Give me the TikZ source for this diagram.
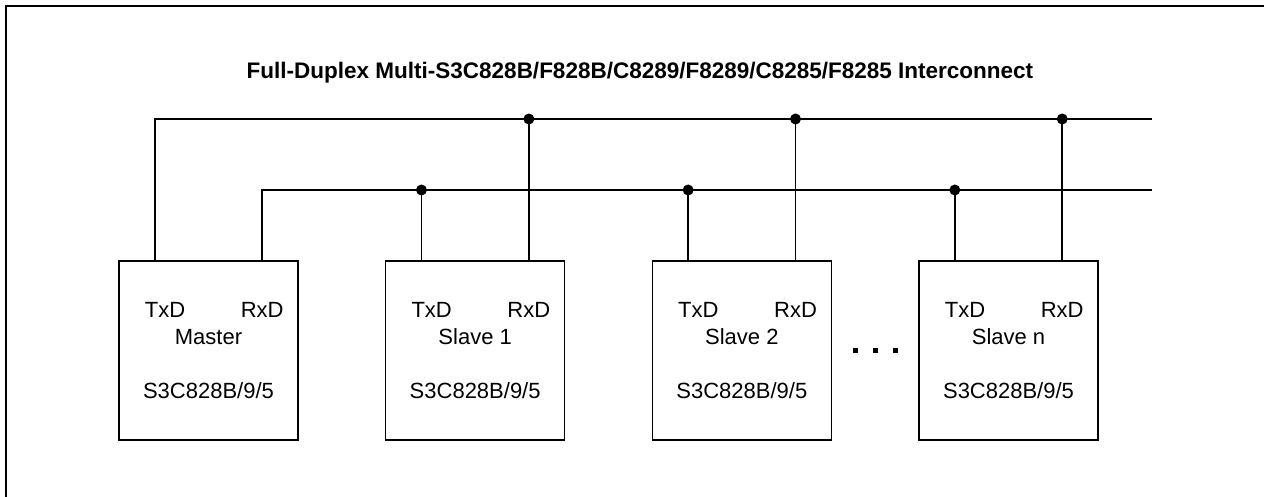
\documentclass[tikz,border=0pt]{standalone}
\usepackage{fontspec}
\setmainfont{Liberation Sans}
\usetikzlibrary{positioning, calc}

\begin{document}
\begin{tikzpicture}[
  x=1pt,
  y=-1pt,
  line width=1.5pt,
  chip/.style={draw, minimum width=179pt, minimum height=179pt, outer sep=0pt, inner sep=0pt},
  pinlbl/.style={font=\fontsize{22}{26}\selectfont, anchor=base, inner sep=0pt},
  joint/.style={circle, fill, inner sep=0pt, minimum size=11pt}
]

\clip (0,0) rectangle (1264,497);
\draw[line width=2.5pt] (6,6) rectangle (1290,520);

\node[font=\bfseries\fontsize{22.5}{26}\selectfont, anchor=base, inner sep=0pt] (title) at (640,79)
  {Full-Duplex Multi-S3C828B/F828B/C8289/F8289/C8285/F8285 Interconnect};

% chips
\node[chip] (master) at (208.5,350.5) {};
\node[chip, right=87.67pt of master] (slave1) {};
\node[chip, right=87.67pt of slave1] (slave2) {};
\node[chip, right=87.67pt of slave2] (slaven) {};

\foreach \b/\name in {master/Master, slave1/Slave 1, slave2/Slave 2, slaven/Slave n} {
  \coordinate (\b-tx) at ($(\b.north west)!0.2!(\b.north east)$);
  \coordinate (\b-rx) at ($(\b.north west)!0.8!(\b.north east)$);
  \node[pinlbl] (\b-txlbl) at ($(\b.north west)+(46,56)$) {TxD};
  \node[pinlbl] (\b-rxlbl) at ($(\b-rx)+(0,56)$) {RxD};
  \node[pinlbl] (\b-name) at ($(\b.north)+(0,83)$) {\name};
  \node[pinlbl] (\b-part) at ($(\b.north)+(0,137)$) {S3C828B/9/5};
}

% bus lines
\coordinate (txbus) at (1152,119);
\coordinate (rxbus) at (1152,190);
\draw (master-tx) |- (txbus);
\draw (master-rx) |- (rxbus);
\foreach \b in {slave1, slave2, slaven} {
  \draw (\b-rx) -- (\b-rx |- txbus) node[joint] (\b-rxjoint) {};
  \draw (\b-tx) -- (\b-tx |- rxbus) node[joint] (\b-txjoint) {};
}

% more slaves
\coordinate (gap) at ($(slave2.east)!0.5!(slaven.west)$);
\foreach \dx in {-20,0,20} {
  \fill ($(gap)+(\dx-2.5,-2.5)$) rectangle ++(5,5);
}

\end{tikzpicture}
\end{document}
